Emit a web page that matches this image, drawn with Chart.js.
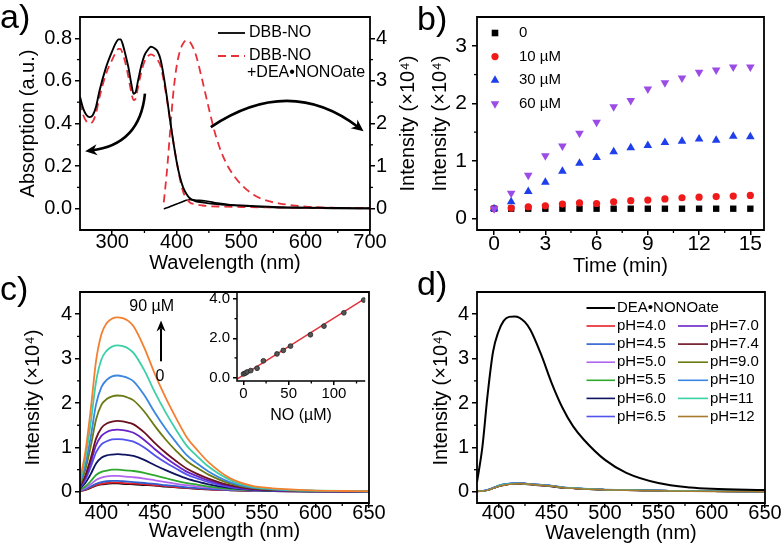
<!DOCTYPE html>
<html>
<head>
<meta charset="utf-8">
<script src="https://cdn.jsdelivr.net/npm/chart.js@4.4.1/dist/chart.umd.min.js"></script>
<style>
  body { margin: 0; background: #fff; }
  #wrap { position: relative; width: 784px; height: 558px; overflow: hidden; font-family: 'Liberation Sans', Arial, sans-serif; }
  #wrap canvas { position: absolute; }
  .lbl { position: absolute; font-size: 34px; line-height: 1; color: #000; }
</style>
</head>
<body>
<div id="wrap">
  <canvas id="chartA" width="420" height="279" style="left:0;top:0"></canvas>
  <canvas id="chartB" width="364" height="279" style="left:420px;top:0"></canvas>
  <canvas id="chartC" width="392" height="279" style="left:0;top:279px"></canvas>
  <canvas id="chartD" width="392" height="279" style="left:392px;top:279px"></canvas>
  <canvas id="chartInset" width="180" height="147" style="left:190px;top:280px"></canvas>
  <div class="lbl" style="left:0;top:-1px">a)</div>
  <div class="lbl" style="left:417px;top:1px">b)</div>
  <div class="lbl" style="left:0;top:271px">c)</div>
  <div class="lbl" style="left:417px;top:266px">d)</div>
</div>
<script>
// ============================================
// DATA
// ============================================
// a) absorption (left axis) and emission (right axis, x10^4)
const aAbsWl   = [250,255,260,265,270,275,280,290,300,305,310,313,316,320,325,330,333,336,340,345,350,355,360,363,366,370,375,380,385,390,395,400,405,410,415,420,430,440,450,470,500,550,600,650,700];
const aAbsDbb  = [0.525,0.47,0.44,0.43,0.44,0.48,0.55,0.66,0.74,0.775,0.795,0.795,0.775,0.73,0.665,0.58,0.54,0.545,0.6,0.67,0.72,0.745,0.76,0.758,0.752,0.74,0.7,0.62,0.52,0.41,0.31,0.22,0.15,0.1,0.07,0.05,0.035,0.03,0.025,0.02,0.015,0.008,0.005,0.003,0.002];
const aAbsDea  = [0.5,0.44,0.41,0.40,0.41,0.45,0.52,0.63,0.7,0.73,0.75,0.75,0.73,0.69,0.62,0.54,0.51,0.515,0.57,0.64,0.69,0.715,0.725,0.722,0.715,0.70,0.67,0.6,0.51,0.41,0.31,0.22,0.14,0.08,0.05,0.03,0.02,0.015,0.012,0.01,0.008,0.006,0.005,0.003,0.002];
const aEmWl    = [380,385,390,395,400,405,410,415,420,425,430,440,450,460,470,480,490,500,520,540,560,580,600,625,650,675,700];
const aEmDea   = [0.15,0.9,1.85,2.75,3.35,3.7,3.88,3.95,3.92,3.8,3.6,3.0,2.35,1.75,1.3,0.98,0.75,0.57,0.32,0.19,0.12,0.08,0.05,0.03,0.02,0.015,0.01];
const aEmDbb   = [0,0.02,0.05,0.08,0.11,0.14,0.17,0.2,0.21,0.21,0.2,0.19,0.17,0.14,0.12,0.1,0.08,0.07,0.05,0.035,0.025,0.02,0.015,0.01,0.008,0.006,0.005];
const aXTicks  = [300,400,500,600,700];
const aYTicks  = [0,0.2,0.4,0.6,0.8];
const aY1Ticks = [0,1,2,3,4];
const aLegend  = ['DBB-NO', 'DBB-NO', '+DEA\u2022NONOate'];

// b) intensity vs time
const bTime   = [0,1,2,3,4,5,6,7,8,9,10,11,12,13,14,15];
const bLabels = ['0', '10 \u00b5M', '30 \u00b5M', '60 \u00b5M'];
const b0  = [0.17,0.17,0.17,0.17,0.17,0.17,0.17,0.17,0.17,0.17,0.17,0.17,0.17,0.17,0.17,0.17];
const b10 = [0.17,0.18,0.2,0.22,0.25,0.27,0.26,0.29,0.31,0.32,0.34,0.36,0.37,0.38,0.39,0.4];
const b30 = [0.17,0.29,0.47,0.63,0.82,0.96,1.06,1.16,1.23,1.27,1.32,1.34,1.38,1.36,1.43,1.42];
const b60 = [0.17,0.44,0.75,1.09,1.26,1.48,1.67,1.94,2.05,2.25,2.36,2.44,2.54,2.58,2.63,2.63];
const bXTicks = [0,3,6,9,12,15];
const bYTicks = [0,1,2,3];

// c) titration spectra, bottom (0) to top (90 uM)
const cWl = [380,385,390,395,400,405,410,415,420,425,430,440,450,460,470,480,490,500,520,540,560,580,600,625,650];
const cSpectra = [
  [0.02,0.045,0.09,0.14,0.17,0.18,0.19,0.19,0.18,0.175,0.17,0.155,0.14,0.12,0.1,0.085,0.07,0.055,0.037,0.024,0.016,0.011,0.008,0.006,0.005],
  [0.02,0.05,0.1,0.15,0.18,0.2,0.21,0.21,0.2,0.19,0.185,0.17,0.15,0.13,0.11,0.09,0.075,0.06,0.04,0.025,0.017,0.012,0.009,0.007,0.005],
  [0.03,0.06,0.12,0.18,0.22,0.24,0.25,0.25,0.24,0.23,0.22,0.2,0.18,0.15,0.13,0.1,0.085,0.07,0.045,0.03,0.02,0.013,0.01,0.007,0.005],
  [0.04,0.09,0.17,0.27,0.32,0.35,0.36,0.36,0.35,0.34,0.33,0.3,0.26,0.22,0.18,0.15,0.12,0.1,0.06,0.035,0.022,0.015,0.011,0.008,0.006],
  [0.05,0.12,0.24,0.38,0.45,0.48,0.5,0.5,0.49,0.48,0.47,0.43,0.37,0.31,0.25,0.2,0.16,0.12,0.07,0.04,0.025,0.016,0.012,0.009,0.007],
  [0.07,0.2,0.4,0.64,0.77,0.82,0.84,0.85,0.84,0.83,0.81,0.72,0.6,0.49,0.39,0.3,0.23,0.17,0.09,0.045,0.025,0.017,0.013,0.01,0.008],
  [0.09,0.27,0.56,0.89,1.07,1.14,1.18,1.19,1.18,1.16,1.13,1.0,0.82,0.66,0.52,0.39,0.3,0.22,0.11,0.055,0.03,0.02,0.015,0.011,0.009],
  [0.1,0.32,0.66,1.05,1.26,1.35,1.39,1.4,1.39,1.37,1.33,1.17,0.96,0.77,0.6,0.45,0.35,0.26,0.13,0.06,0.035,0.022,0.016,0.012,0.01],
  [0.12,0.37,0.75,1.2,1.44,1.54,1.58,1.6,1.59,1.56,1.52,1.34,1.1,0.88,0.69,0.52,0.4,0.3,0.15,0.07,0.04,0.025,0.018,0.013,0.01],
  [0.16,0.5,1.02,1.63,1.96,2.09,2.15,2.17,2.16,2.12,2.06,1.81,1.48,1.18,0.92,0.69,0.53,0.39,0.19,0.09,0.05,0.03,0.022,0.016,0.012],
  [0.19,0.6,1.23,1.97,2.36,2.52,2.6,2.62,2.6,2.56,2.49,2.18,1.78,1.42,1.11,0.82,0.63,0.46,0.22,0.1,0.06,0.035,0.025,0.018,0.013],
  [0.24,0.76,1.55,2.48,2.98,3.18,3.27,3.3,3.28,3.23,3.13,2.74,2.24,1.79,1.39,1.03,0.79,0.57,0.27,0.12,0.07,0.04,0.03,0.02,0.015],
  [0.28,0.9,1.85,2.95,3.55,3.8,3.9,3.93,3.91,3.85,3.73,3.25,2.65,2.12,1.65,1.22,0.93,0.67,0.31,0.14,0.08,0.05,0.03,0.02,0.015]
];
const cColors = ['#000000','#E8202A','#2F5FD0','#B266F0','#2EA82E','#0F1460','#5252EE','#6A22C8','#6B1020','#6B7A12','#3A86E0','#3CD0A6','#F28030'];
const cXTicks = [400,450,500,550,600,650];
const cYTicks = [0,1,2,3,4];
const cTopLabel = '90 \u00b5M';
const cBottomLabel = '0';

// c) inset: calibration
const insetNo = [0,2,4,8,15,22,37,44,52,74,89,111,133];
const insetI  = [0.18,0.22,0.28,0.35,0.47,0.85,1.2,1.38,1.6,2.18,2.62,3.3,3.95];
const fitX    = [-7.2,134.6];
const fitY    = [-0.08,4.04];
const insetXTicks = [0,50,100];
const insetYTicks = [0,2,4];

// d) pH dependence
const dWl  = [380,385,390,395,400,405,410,415,420,425,430,440,450,460,470,480,500,520,550,580,600,650];
const dDea = [0.22,1.0,2.2,3.15,3.6,3.85,3.94,3.95,3.92,3.82,3.65,3.1,2.45,1.9,1.48,1.18,0.72,0.43,0.2,0.1,0.07,0.04];
const dPhLabels = ['pH=4.0','pH=4.5','pH=5.0','pH=5.5','pH=6.0','pH=6.5','pH=7.0','pH=7.4','pH=9.0','pH=10','pH=11','pH=12'];
const dPhColors = ['#E8202A','#2F5FD0','#B266F0','#2EA82E','#0F1460','#5252EE','#6A22C8','#6B1020','#6B7A12','#3A86E0','#3CD0A6','#A87A2E'];
const dPh = [
  [0.01,0.02,0.04,0.08,0.13,0.16,0.18,0.19,0.19,0.18,0.17,0.15,0.13,0.1,0.085,0.07,0.05,0.04,0.03,0.02,0.015,0.01],
  [0.01,0.02,0.05,0.09,0.14,0.17,0.19,0.2,0.2,0.19,0.18,0.16,0.14,0.1,0.085,0.07,0.05,0.04,0.03,0.02,0.015,0.01],
  [0.01,0.02,0.04,0.08,0.13,0.16,0.18,0.19,0.2,0.19,0.18,0.16,0.13,0.1,0.08,0.07,0.05,0.04,0.03,0.02,0.015,0.01],
  [0.01,0.02,0.04,0.09,0.14,0.17,0.18,0.19,0.19,0.18,0.17,0.15,0.13,0.1,0.08,0.065,0.05,0.04,0.03,0.02,0.015,0.01],
  [0.01,0.02,0.04,0.08,0.12,0.15,0.17,0.18,0.19,0.18,0.17,0.15,0.12,0.095,0.08,0.065,0.05,0.035,0.025,0.02,0.015,0.01],
  [0.01,0.02,0.05,0.09,0.13,0.16,0.18,0.19,0.2,0.19,0.18,0.16,0.14,0.1,0.085,0.07,0.05,0.04,0.03,0.02,0.015,0.01],
  [0.01,0.02,0.04,0.08,0.13,0.16,0.18,0.2,0.2,0.19,0.17,0.15,0.13,0.1,0.08,0.07,0.05,0.04,0.03,0.02,0.015,0.01],
  [0.01,0.02,0.04,0.08,0.12,0.15,0.17,0.18,0.18,0.17,0.16,0.14,0.12,0.09,0.08,0.065,0.045,0.035,0.025,0.02,0.015,0.01],
  [0.01,0.02,0.04,0.08,0.13,0.16,0.18,0.19,0.19,0.18,0.17,0.15,0.13,0.1,0.08,0.07,0.05,0.04,0.03,0.02,0.012,0.008],
  [0.01,0.02,0.05,0.09,0.14,0.17,0.19,0.2,0.2,0.19,0.18,0.16,0.14,0.11,0.09,0.075,0.055,0.04,0.03,0.02,0.015,0.01],
  [0.01,0.02,0.04,0.08,0.13,0.16,0.18,0.19,0.19,0.18,0.17,0.15,0.13,0.1,0.085,0.07,0.05,0.04,0.03,0.02,0.012,0.008],
  [0.01,0.02,0.04,0.08,0.12,0.15,0.17,0.18,0.19,0.18,0.17,0.15,0.13,0.1,0.08,0.065,0.05,0.035,0.025,0.015,0.01,0.005]
];
const dXTicks = cXTicks;
const dYTicks = cYTicks;

// ============================================
// HELPERS
// ============================================
Chart.defaults.font.family = "'Liberation Sans', Arial, sans-serif";
Chart.defaults.color = '#000';

const FONT = "'Liberation Sans', Arial, sans-serif";
const pts = (xs, ys) => xs.map((x, i) => ({ x: x, y: ys[i] }));

function axis(pos, min, max, ticks, size, o) {
    o = o || {};
    return {
        type: 'linear', position: pos, min: min, max: max, bounds: 'data',
        afterBuildTicks: s => { s.ticks = ticks.map(v => ({ value: v })); },
        afterFit: s => { if (pos === 'bottom') s.height = size; else s.width = size; },
        grid: { display: true, drawOnChartArea: false, drawTicks: true, tickLength: o.tl || 5, color: '#000', lineWidth: 1.5 },
        border: { display: false },
        ticks: {
            color: '#000', font: { size: o.fs || 20, lineHeight: 0.8 }, padding: o.pad !== undefined ? o.pad : 2,
            maxRotation: 0, autoSkip: false, display: o.labels !== false,
            callback: o.fmt || (v => String(v))
        },
        title: {
            display: !!o.title, text: o.title || '', color: '#000',
            font: { size: o.tfs || 20, lineHeight: 1.2 },
            padding: { top: o.tpad || 0, bottom: o.tpad || 0 }
        }
    };
}

// frame box + minor ticks
const decor = {
    id: 'decor',
    afterDraw(chart, args, opts) {
        const ctx = chart.ctx;
        const a = chart.chartArea;
        ctx.save();
        ctx.strokeStyle = '#000';
        ctx.lineWidth = opts.width || 1.8;
        ctx.beginPath();
        if (opts.open) {
            ctx.moveTo(a.left, a.top); ctx.lineTo(a.left, a.bottom); ctx.lineTo(a.right, a.bottom);
        } else {
            ctx.rect(a.left, a.top, a.right - a.left, a.bottom - a.top);
        }
        ctx.stroke();
        ctx.lineWidth = 1.3;
        const minor = opts.minor || {};
        Object.keys(minor).forEach(id => {
            const s = chart.scales[id];
            const step = minor[id];
            const majors = s.ticks.map(t => t.value);
            const len = opts.minorLen || 3;
            for (let k = Math.ceil(s.min / step); k * step <= s.max + 1e-9; k++) {
                const v = k * step;
                if (Math.abs(v - s.min) < step / 100 || Math.abs(v - s.max) < step / 100) continue;
                if (majors.some(m => Math.abs(m - v) < step / 100)) continue;
                const p = s.getPixelForValue(v);
                ctx.beginPath();
                if (s.position === 'bottom') { ctx.moveTo(p, a.bottom); ctx.lineTo(p, a.bottom + len); }
                else if (s.position === 'left') { ctx.moveTo(a.left, p); ctx.lineTo(a.left - len, p); }
                else { ctx.moveTo(a.right, p); ctx.lineTo(a.right + len, p); }
                ctx.stroke();
            }
        });
        ctx.restore();
    }
};

function arrowHead(ctx, x, y, dx, dy, len, half) {
    const n = Math.hypot(dx, dy) || 1;
    const ux = dx / n, uy = dy / n;
    ctx.beginPath();
    ctx.moveTo(x, y);
    ctx.lineTo(x - ux * len - uy * half, y - uy * len + ux * half);
    ctx.lineTo(x - ux * len * 0.7, y - uy * len * 0.7);
    ctx.lineTo(x - ux * len + uy * half, y - uy * len - ux * half);
    ctx.closePath();
    ctx.fill();
}

const common = {
    responsive: false, animation: false, devicePixelRatio: 1,
    events: [],
    elements: { point: { radius: 0 }, line: { borderWidth: 1.6 } }
};

// ============================================
// a) absorption + emission
// ============================================
const aArrows = [
    { from: [350.8, 0.54], via: [343, 0.30], to: [258, 0.27] },
    { from: [453, 0.383], via: [575, 0.63], to: [690, 0.364] }
];

new Chart(document.getElementById('chartA'), {
    type: 'line',
    data: {
        datasets: [
            { data: pts(aAbsWl, aAbsDbb), borderColor: '#000', borderWidth: 1.9, yAxisID: 'y', cubicInterpolationMode: 'monotone' },
            { data: pts(aAbsWl, aAbsDea), borderColor: '#E8303A', borderWidth: 1.8, borderDash: [8, 5], yAxisID: 'y', cubicInterpolationMode: 'monotone' },
            { data: pts(aEmWl, aEmDbb), borderColor: '#000', borderWidth: 1.6, yAxisID: 'y1', cubicInterpolationMode: 'monotone' },
            { data: pts(aEmWl, aEmDea), borderColor: '#E8303A', borderWidth: 1.8, borderDash: [8, 5], yAxisID: 'y1', cubicInterpolationMode: 'monotone' }
        ]
    },
    options: Object.assign({}, common, {
        layout: { padding: { top: 17, right: 0, left: 0, bottom: 0 } },
        scales: {
            x: axis('bottom', 250, 700, aXTicks, 49, { pad: -1, title: 'Wavelength (nm)', tpad: 4 }),
            y: axis('left', -0.1, 0.9, aYTicks, 80, { pad: 3, fmt: v => v.toFixed(1), title: 'Absorption (a.u.)', tpad: 16 }),
            y1: axis('right', -0.5, 4.5, aY1Ticks, 50, { pad: 1 })
        },
        plugins: {
            legend: { display: false }, tooltip: { enabled: false },
            decor: { minor: { x: 50, y: 0.1, y1: 0.5 } }
        }
    }),
    plugins: [decor, {
        id: 'aExtra',
        afterDraw(chart) {
            const ctx = chart.ctx, a = chart.chartArea, sx = chart.scales.x, sy = chart.scales.y;
            ctx.save();
            // right axis title (reads upward)
            ctx.fillStyle = '#000';
            ctx.font = '20px ' + FONT;
            ctx.textAlign = 'center'; ctx.textBaseline = 'middle';
            ctx.translate(408, (a.top + a.bottom) / 2);
            ctx.rotate(-Math.PI / 2);
            ctx.fillText('Intensity (\u00d710\u2074)', 0, 0);
            ctx.restore();
            // legend
            ctx.save();
            ctx.font = '16px ' + FONT;
            ctx.textBaseline = 'middle'; ctx.fillStyle = '#000';
            ctx.lineWidth = 1.8;
            ctx.strokeStyle = '#000';
            ctx.beginPath(); ctx.moveTo(218, 33); ctx.lineTo(245, 33); ctx.stroke();
            ctx.fillText(aLegend[0], 249, 33);
            ctx.strokeStyle = '#E8303A'; ctx.setLineDash([8, 5]);
            ctx.beginPath(); ctx.moveTo(218, 56); ctx.lineTo(245, 56); ctx.stroke();
            ctx.setLineDash([]);
            ctx.fillText(aLegend[1], 249, 56);
            ctx.fillText(aLegend[2], 247, 73);
            // curved arrows
            ctx.strokeStyle = '#000'; ctx.fillStyle = '#000'; ctx.lineWidth = 2.6;
            aArrows.forEach(ar => {
                const p0 = [sx.getPixelForValue(ar.from[0]), sy.getPixelForValue(ar.from[1])];
                const c = [sx.getPixelForValue(ar.via[0]), sy.getPixelForValue(ar.via[1])];
                const p1 = [sx.getPixelForValue(ar.to[0]), sy.getPixelForValue(ar.to[1])];
                const dx = p1[0] - c[0], dy = p1[1] - c[1];
                const n = Math.hypot(dx, dy);
                const end = [p1[0] - dx / n * 6, p1[1] - dy / n * 6];
                ctx.beginPath(); ctx.moveTo(p0[0], p0[1]); ctx.quadraticCurveTo(c[0], c[1], end[0], end[1]); ctx.stroke();
                arrowHead(ctx, p1[0], p1[1], dx, dy, 12, 5.5);
            });
            ctx.restore();
        }
    }]
});

// ============================================
// b) time course
// ============================================
const bSeries = [
    { y: b0,  color: '#000000', style: 'rect',     r: 4.5, rot: 0 },
    { y: b10, color: '#F01A1A', style: 'circle',   r: 3.6, rot: 0 },
    { y: b30, color: '#1E3FEA', style: 'triangle', r: 5,   rot: 0 },
    { y: b60, color: '#9B4CE6', style: 'triangle', r: 5,   rot: 180 }
];

new Chart(document.getElementById('chartB'), {
    type: 'line',
    data: {
        datasets: bSeries.map((s, i) => ({
            data: pts(bTime, s.y), showLine: false, order: -i,
            pointStyle: s.style, pointRadius: s.r, pointRotation: s.rot,
            pointBackgroundColor: s.color, pointBorderColor: s.color, pointBorderWidth: 0
        }))
    },
    options: Object.assign({}, common, {
        layout: { padding: { top: 17, right: 20, left: 0, bottom: 0 } },
        scales: {
            x: axis('bottom', -1, 15.8, bXTicks, 49, { pad: 1, fs: 21, title: 'Time (min)', tpad: 1 }),
            y: axis('left', -0.2, 3.5, bYTicks, 57, { pad: 5, fs: 21, title: 'Intensity (\u00d710\u2074)', tpad: 8 })
        },
        plugins: {
            legend: { display: false }, tooltip: { enabled: false },
            decor: { minor: { x: 1.5, y: 0.5 } }
        }
    }),
    plugins: [decor, {
        id: 'bLegend',
        afterDraw(chart) {
            const ctx = chart.ctx;
            ctx.save();
            ctx.font = '15px ' + FONT; ctx.textBaseline = 'middle';
            bSeries.forEach((s, i) => {
                const y = 33 + i * 23.6, x = 75;
                ctx.fillStyle = s.color;
                ctx.beginPath();
                if (s.style === 'rect') ctx.rect(x - 3.3, y - 3.3, 6.6, 6.6);
                else if (s.style === 'circle') ctx.arc(x, y, 3.6, 0, Math.PI * 2);
                else if (s.rot === 0) { ctx.moveTo(x, y - 5); ctx.lineTo(x + 4.3, y + 2.5); ctx.lineTo(x - 4.3, y + 2.5); }
                else { ctx.moveTo(x, y + 5); ctx.lineTo(x + 4.3, y - 2.5); ctx.lineTo(x - 4.3, y - 2.5); }
                ctx.fill();
                ctx.fillStyle = '#000';
                ctx.fillText(bLabels[i], 99, y);
            });
            ctx.restore();
        }
    }]
});

// ============================================
// c) titration spectra
// ============================================
new Chart(document.getElementById('chartC'), {
    type: 'line',
    data: {
        datasets: cSpectra.map((ys, i) => ({
            data: pts(cWl, ys), borderColor: cColors[i], borderWidth: 1.8, order: -i,
            cubicInterpolationMode: 'monotone'
        }))
    },
    options: Object.assign({}, common, {
        layout: { padding: { top: 13, right: 23, left: 0, bottom: 0 } },
        scales: {
            x: axis('bottom', 380, 650, cXTicks, 55, { pad: -3, title: 'Wavelength (nm)', tpad: 15 }),
            y: axis('left', -0.25, 4.5, cYTicks, 80, { pad: 3, title: 'Intensity (\u00d710\u2074)', tpad: 21 })
        },
        plugins: {
            legend: { display: false }, tooltip: { enabled: false },
            decor: { minor: { x: 25, y: 0.5 } }
        }
    }),
    plugins: [decor, {
        id: 'cArrow',
        afterDraw(chart) {
            const ctx = chart.ctx, sx = chart.scales.x, sy = chart.scales.y;
            const x = sx.getPixelForValue(455.7);
            const yBot = sy.getPixelForValue(2.94), yTop = sy.getPixelForValue(3.86);
            ctx.save();
            ctx.strokeStyle = '#000'; ctx.fillStyle = '#000'; ctx.lineWidth = 2;
            ctx.beginPath(); ctx.moveTo(x, yBot); ctx.lineTo(x, yTop + 8); ctx.stroke();
            arrowHead(ctx, x, yTop, 0, -1, 11, 4.5);
            ctx.font = '16px ' + FONT; ctx.textAlign = 'center'; ctx.textBaseline = 'middle';
            ctx.fillText(cTopLabel, sx.getPixelForValue(447), sy.getPixelForValue(4.17));
            ctx.fillText(cBottomLabel, sx.getPixelForValue(454.8), sy.getPixelForValue(2.59));
            ctx.restore();
        }
    }]
});

// inset: calibration line
new Chart(document.getElementById('chartInset'), {
    type: 'line',
    data: {
        datasets: [
            { data: pts(insetNo, insetI), showLine: false, pointRadius: 2.4, pointBackgroundColor: '#555', pointBorderColor: '#222', pointBorderWidth: 0.8 },
            { data: pts(fitX, fitY), borderColor: '#E0303A', borderWidth: 1.4, pointRadius: 0 }
        ]
    },
    options: Object.assign({}, common, {
        layout: { padding: { top: 13, right: 3, left: 0, bottom: 0 } },
        scales: {
            x: axis('bottom', -7.2, 134.6, insetXTicks, 46, { fs: 15, tl: 4, pad: 3, title: 'NO (\u00b5M)', tfs: 16, tpad: 2 }),
            y: axis('left', -0.18, 4.31, insetYTicks, 47, { fs: 15, tl: 4, pad: 3, fmt: v => v.toFixed(1) })
        },
        plugins: {
            legend: { display: false }, tooltip: { enabled: false },
            decor: { open: true, width: 1.5, minorLen: 2.5, minor: { x: 25, y: 1 } }
        }
    }),
    plugins: [decor]
});

// ============================================
// d) pH dependence
// ============================================
const dDatasets = dPh.map((ys, i) => ({
    data: pts(dWl, ys), borderColor: dPhColors[i], borderWidth: 1.5, order: -i,
    cubicInterpolationMode: 'monotone'
}));
dDatasets.push({ data: pts(dWl, dDea), borderColor: '#000', borderWidth: 2, order: -20, cubicInterpolationMode: 'monotone' });

new Chart(document.getElementById('chartD'), {
    type: 'line',
    data: { datasets: dDatasets },
    options: Object.assign({}, common, {
        layout: { padding: { top: 13, right: 19, left: 0, bottom: 0 } },
        scales: {
            x: axis('bottom', 380, 650, dXTicks, 55, { pad: -3, title: 'Wavelength (nm)', tpad: 13 }),
            y: axis('left', -0.25, 4.5, dYTicks, 85, { pad: 3, title: 'Intensity (\u00d710\u2074)', tpad: 37 })
        },
        plugins: {
            legend: { display: false }, tooltip: { enabled: false },
            decor: { minor: { x: 25, y: 0.5 } }
        }
    }),
    plugins: [decor, {
        id: 'dLegend',
        afterDraw(chart) {
            const ctx = chart.ctx;
            ctx.save();
            ctx.font = '15px ' + FONT; ctx.textBaseline = 'middle'; ctx.fillStyle = '#000';
            ctx.lineWidth = 2; ctx.strokeStyle = '#000';
            ctx.beginPath(); ctx.moveTo(194.5, 29); ctx.lineTo(223, 29); ctx.stroke();
            ctx.fillText('DEA\u2022NONOate', 225, 29);
            ctx.lineWidth = 1.6;
            dPhLabels.forEach((lab, i) => {
                const col = i < 6 ? 0 : 1;
                const row = i % 6;
                const y = 47 + row * 18.1;
                const x0 = col ? 286 : 194.5, x1 = col ? 316 : 223, tx = col ? 318 : 225;
                ctx.strokeStyle = dPhColors[i];
                ctx.beginPath(); ctx.moveTo(x0, y); ctx.lineTo(x1, y); ctx.stroke();
                ctx.fillText(lab, tx, y);
            });
            ctx.restore();
        }
    }]
});
</script>
</body>
</html>
